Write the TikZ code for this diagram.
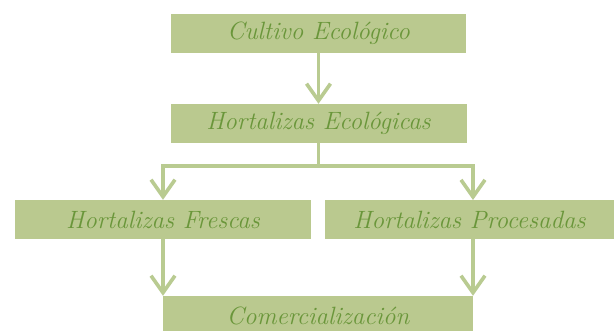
\documentclass[tikz,border=0pt]{standalone}
\usetikzlibrary{arrows.meta}
\definecolor{boxfill}{HTML}{BAC98F}
\definecolor{linecol}{HTML}{B9CB91}
\definecolor{txtcol}{HTML}{6A963A}
\tikzset{
  box/.style={fill=boxfill, draw=none, inner sep=0pt, text=txtcol,
    font=\fontsize{25}{28}\selectfont\itshape},
  conn/.style={draw=linecol, line width=3.6pt},
  arr/.style={conn, -{Straight Barb[length=17pt,width=24pt,line width=3.6pt]}}
}
\begin{document}
\begin{tikzpicture}[x=1pt,y=-1pt]
\clip (0,0) rectangle (614,331);
\fill[white] (0,0) rectangle (614,331);
\node[box, minimum width=295pt, minimum height=39pt] (c1) at (318.5,33.5) {Cultivo Ecológico};
\node[box, minimum width=296pt, minimum height=39pt] (c2) at (318.5,123.5) {Hortalizas Ecológicas};
\node[box, minimum width=296pt, minimum height=39pt] (f) at (163,219.5) {Hortalizas Frescas};
\node[box, minimum width=289pt, minimum height=39pt] (p) at (469.5,219.5) {Hortalizas Procesadas};
\node[box, minimum width=310pt, minimum height=39pt] (com) at (318,315.5) {Comercialización};
\coordinate (j) at (318.5,166);
\coordinate (pin) at (473,200);
\coordinate (pout) at (473,239);
\draw[arr] (c1.south) -- (c2.north);
\draw[conn] (c2.south) -- (j);
\draw[arr] (j) -| (f.north);
\draw[arr] (j) -| (pin);
\draw[arr] (f.south) -- (f.south |- com.north);
\draw[arr] (pout) -- (pout |- com.north);
\end{tikzpicture}
\end{document}
